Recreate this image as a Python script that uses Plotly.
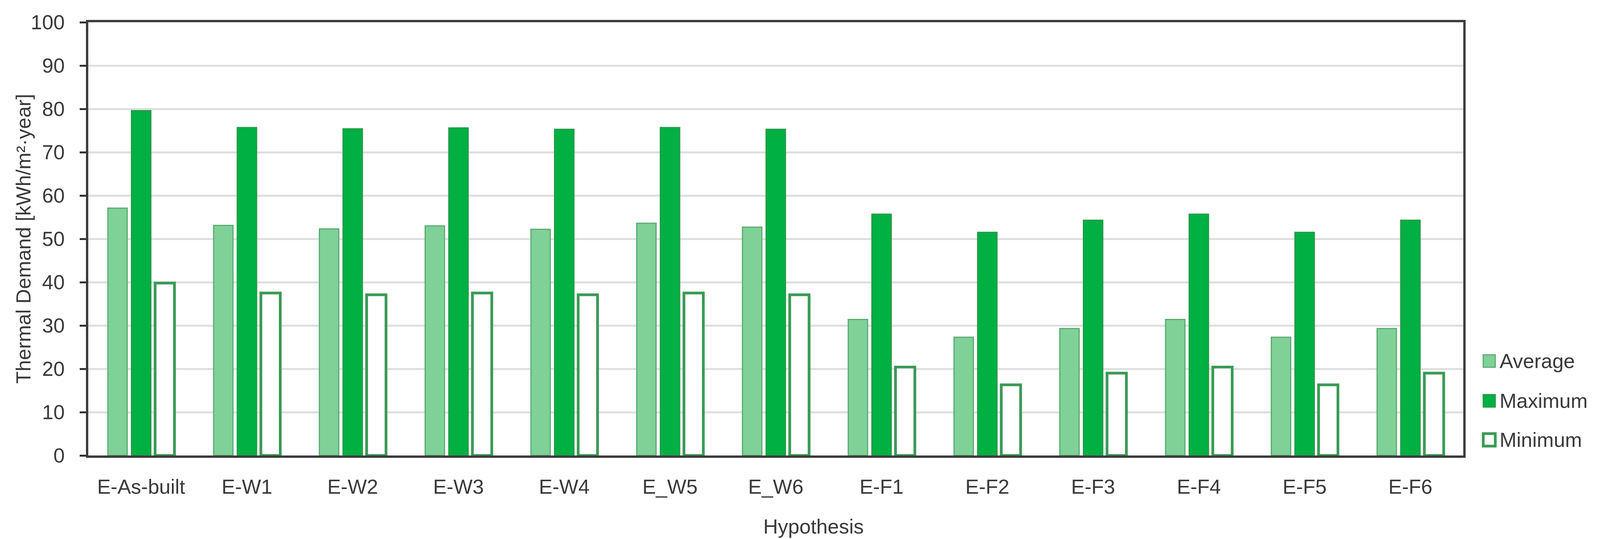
import plotly.graph_objects as go

categories = ["E-As-built", "E-W1", "E-W2", "E-W3", "E-W4", "E_W5", "E_W6",
              "E-F1", "E-F2", "E-F3", "E-F4", "E-F5", "E-F6"]
average = [57.1, 53.1, 52.3, 53.0, 52.2, 53.6, 52.7, 31.4, 27.3, 29.3, 31.4, 27.3, 29.3]
maximum = [79.6, 75.7, 75.4, 75.6, 75.3, 75.7, 75.3, 55.7, 51.5, 54.3, 55.7, 51.5, 54.3]
minimum = [39.8, 37.5, 37.1, 37.5, 37.1, 37.5, 37.1, 20.4, 16.3, 19.0, 20.4, 16.3, 19.0]
y_ticks = [0, 10, 20, 30, 40, 50, 60, 70, 80, 90, 100]
series_names = ["Average", "Maximum", "Minimum"]

FONT = "Liberation Sans, Arial, sans-serif"
TXT = "#3a3a3a"
AVG_FILL, AVG_LINE = "#7fd198", "#5aab70"
MAX_FILL, MAX_LINE = "#00b042", "#279a48"
MIN_FILL, MIN_LINE = "#ffffff", "#3a9a55"

fig = go.Figure()
fig.add_trace(go.Bar(x=categories, y=average, name=series_names[0],
                     marker=dict(color=AVG_FILL, line=dict(color=AVG_LINE, width=3))))
fig.add_trace(go.Bar(x=categories, y=maximum, name=series_names[1],
                     marker=dict(color=MAX_FILL, line=dict(color=MAX_LINE, width=3))))
fig.add_trace(go.Bar(x=categories, y=minimum, name=series_names[2],
                     marker=dict(color=MIN_FILL, line=dict(color=MIN_LINE, width=7))))

W, H = 4251, 1381
ML, MR, MT, MB = 235, 363, 57, 214
pw = W - ML - MR
ph = H - MT - MB

fig.update_layout(
    width=W, height=H,
    margin=dict(l=ML, r=MR, t=MT, b=MB, autoexpand=False),
    paper_bgcolor="white", plot_bgcolor="white",
    barmode="group", bargap=0.33, bargroupgap=0.18,
    showlegend=False,
    font=dict(family=FONT, size=52, color=TXT),
)
fig.update_yaxes(
    range=[0, 100], tickvals=y_ticks, ticktext=[str(v) for v in y_ticks],
    showgrid=True, gridcolor="#dedede", gridwidth=5,
    showline=True, linecolor="#3c3c3c", linewidth=6, mirror=True,
    ticks="outside", ticklen=16, tickwidth=5, tickcolor="#333333",
    ticklabelstandoff=28,
    tickfont=dict(family=FONT, size=52, color=TXT),
    zeroline=False,
)
fig.update_xaxes(
    showline=True, linecolor="#3c3c3c", linewidth=6, mirror=True,
    ticks="", ticklabelstandoff=30,
    tickfont=dict(family=FONT, size=52, color=TXT),
    showgrid=False,
)

# Axis titles
fig.add_annotation(text="Thermal Demand [kWh/m²·year]", textangle=-90,
                   xref="paper", yref="paper", x=(63 - ML) / pw, y=0.5,
                   showarrow=False, font=dict(family=FONT, size=52, color=TXT),
                   xanchor="center", yanchor="middle")
fig.add_annotation(text="Hypothesis", xref="paper", yref="paper",
                   x=(2162 - ML) / pw, y=(H - MB - 1349) / ph,
                   showarrow=False, font=dict(family=FONT, size=52, color=TXT),
                   xanchor="center", yanchor="middle")

# Custom legend
legend_rows = [925, 1027, 1127]
legend_styles = [(AVG_FILL, AVG_LINE, 3), (MAX_FILL, MAX_LINE, 3), (MIN_FILL, MIN_LINE, 7)]
for name, yc, (fc, lc, lw) in zip(series_names, legend_rows, legend_styles):
    x0 = (3941 - ML) / pw
    x1 = (3973 - ML) / pw
    y0 = (H - MB - (yc + 16)) / ph
    y1 = (H - MB - (yc - 16)) / ph
    fig.add_shape(type="rect", xref="paper", yref="paper", x0=x0, x1=x1, y0=y0, y1=y1,
                  fillcolor=fc, line=dict(color=lc, width=lw))
    fig.add_annotation(text=name, xref="paper", yref="paper",
                       x=(3982 - ML) / pw, y=(H - MB - yc) / ph,
                       showarrow=False, xanchor="left", yanchor="middle",
                       font=dict(family=FONT, size=52, color=TXT))

# Fit the figure to the actual visible viewport width, keeping proportions.
post = (
    "document.documentElement.style.margin='0';"
    "document.body.style.margin='0';document.body.style.overflow='hidden';"
    "var gd=document.getElementById('{plot_id}');"
    "var vw=document.documentElement.clientWidth||window.innerWidth;"
    "if(vw && Math.abs(vw-%d)>2){var f=vw/%d;"
    "Plotly.relayout(gd,{width:vw,'margin.l':%d*f,'margin.r':%d*f});}"
) % (W, W, ML, MR)

fig.write_html("out.html", config={"displayModeBar": False}, post_script=post)
